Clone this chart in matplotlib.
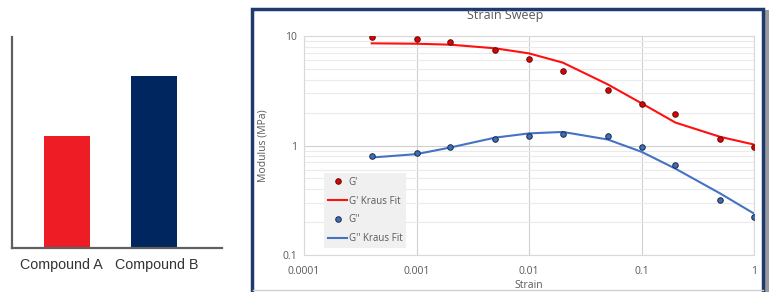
import matplotlib
matplotlib.use("Agg")
import matplotlib.pyplot as plt
import matplotlib.transforms as mtransforms
from matplotlib.patches import Rectangle
from matplotlib.lines import Line2D
from matplotlib.ticker import LogLocator, FixedLocator, NullFormatter

# Bar chart data
compounds = ["Compound A", "Compound B"]
bar_values = [53, 81.5]
bar_colors = ["#EE1C25", "#002660"]

# Strain sweep data
strain = [0.0004, 0.001, 0.002, 0.005, 0.01, 0.02, 0.05, 0.1, 0.2, 0.5, 1.0]
g_prime = [9.86, 9.45, 8.8, 7.45, 6.12, 4.76, 3.21, 2.41, 1.93, 1.146, 0.965]
g_prime_fit = [8.57, 8.5, 8.33, 7.72, 6.94, 5.71, 3.62, 2.43, 1.62, 1.2, 1.02]
g_dprime = [0.799, 0.851, 0.972, 1.135, 1.217, 1.278, 1.22, 0.972, 0.661, 0.317, 0.223]
g_dprime_fit = [0.777, 0.834, 0.959, 1.18, 1.29, 1.33, 1.135, 0.876, 0.615, 0.365, 0.239]
x_ticks = [0.0001, 0.001, 0.01, 0.1, 1]
x_ticklabels = ["0.0001", "0.001", "0.01", "0.1", "1"]
y_ticks = [0.1, 1, 10]
y_ticklabels = ["0.1", "1", "10"]

W, H = 769, 292
fig = plt.figure(figsize=(W / 100, H / 100), dpi=100)

def fx(px):
    return px / W

def fy(py):
    return 1 - py / H

# ---- Left bar chart ----
axb = fig.add_axes([fx(12), fy(248), fx(222) - fx(12), fy(37) - fy(248)])
axb.bar(range(len(compounds)), bar_values, width=0.53, color=bar_colors)
axb.set_xlim(-0.632, 1.78)
axb.set_ylim(0, 100)
axb.set_yticks([])
axb.set_xticks(range(len(compounds)))
axb.set_xticklabels(compounds, fontsize=10.3, color="#333333",
                    family=["Liberation Sans", "DejaVu Sans"])
axb.tick_params(axis="x", length=0, pad=7)
for lab, dx in zip(axb.get_xticklabels(), [-6, 3]):
    lab.set_transform(lab.get_transform() +
                      mtransforms.ScaledTranslation(dx / 100, 0, fig.dpi_scale_trans))
for s in ["top", "right"]:
    axb.spines[s].set_visible(False)
for s in ["left", "bottom"]:
    axb.spines[s].set_color("#606060")
    axb.spines[s].set_linewidth(1.6)
axb.patch.set_alpha(0)

# ---- Right chart frame ----
fig.patches.append(Rectangle((fx(764), 0), fx(5), fy(10), transform=fig.transFigure,
                             facecolor="#9a9a9a", edgecolor="none", zorder=0))
fig.patches.append(Rectangle((fx(252), fy(300)), fx(763) - fx(252), fy(9) - fy(300),
                             transform=fig.transFigure, facecolor="white",
                             edgecolor="#1F3A6E", linewidth=2.5, zorder=1))
fig.lines.append(Line2D([fx(253), fx(763)], [fy(290), fy(290)], transform=fig.transFigure,
                        color="#D0D0D0", linewidth=1.0, zorder=2))

tf = ["Open Sans", "DejaVu Sans"]
ax = fig.add_axes([fx(304), fy(255), fx(754) - fx(304), fy(36) - fy(255)])
ax.set_zorder(5)
ax.set_xscale("log")
ax.set_yscale("log")
ax.set_xlim(0.0001, 1)
ax.set_ylim(0.1, 10)

ax.plot(strain, g_prime, linestyle="none", marker="o", markersize=4.0,
        markerfacecolor="#E00000", markeredgecolor="#5a1010", markeredgewidth=0.7,
        label="G'", zorder=4)
ax.plot(strain, g_prime_fit, color="#FF1010", linewidth=1.5, label="G' Kraus Fit", zorder=3)
ax.plot(strain, g_dprime, linestyle="none", marker="o", markersize=4.0,
        markerfacecolor="#3F6DB8", markeredgecolor="#1a2a4a", markeredgewidth=0.7,
        label="G''", zorder=4)
ax.plot(strain, g_dprime_fit, color="#4472C4", linewidth=1.5, label="G'' Kraus Fit", zorder=3)

ax.xaxis.set_major_locator(FixedLocator(x_ticks))
ax.set_xticklabels(x_ticklabels)
ax.xaxis.set_minor_locator(FixedLocator([]))
ax.yaxis.set_major_locator(FixedLocator(y_ticks))
ax.set_yticklabels(y_ticklabels)
ax.yaxis.set_minor_locator(LogLocator(base=10, subs=range(2, 10)))
ax.yaxis.set_minor_formatter(NullFormatter())
ax.tick_params(which="both", length=0, labelsize=7.5, labelcolor="#595959")
for lab in ax.get_xticklabels() + ax.get_yticklabels():
    lab.set_family(tf)
ax.tick_params(axis="x", pad=8)
ax.tick_params(axis="y", pad=5)

ax.grid(which="major", color="#D0D0D0", linewidth=0.8)
ax.grid(which="minor", axis="y", color="#EBEBEB", linewidth=0.8)
ax.set_axisbelow(True)
for s in ax.spines.values():
    s.set_color("#D9D9D9")
    s.set_linewidth(0.8)

fig.text(fx(505), fy(15), "Strain Sweep", fontsize=9, color="#595959", family=tf,
         ha="center", va="center", zorder=6)
ax.set_xlabel("Strain", fontsize=7.5, color="#595959", family=tf, labelpad=2)
ax.set_ylabel("Modulus (MPa)", fontsize=7.5, color="#595959", family=tf, labelpad=10)

leg = ax.legend(loc="lower left", bbox_to_anchor=(20 / 450, 7 / 219),
                frameon=True, facecolor="#F0F0F0", edgecolor="none",
                framealpha=1, handlelength=2.0, labelspacing=0.8, borderpad=0.4,
                handletextpad=0.15, borderaxespad=0, fancybox=False,
                prop={"family": tf, "size": 7})
for t in leg.get_texts():
    t.set_color("#595959")

fig.savefig("out.png", dpi=100)
